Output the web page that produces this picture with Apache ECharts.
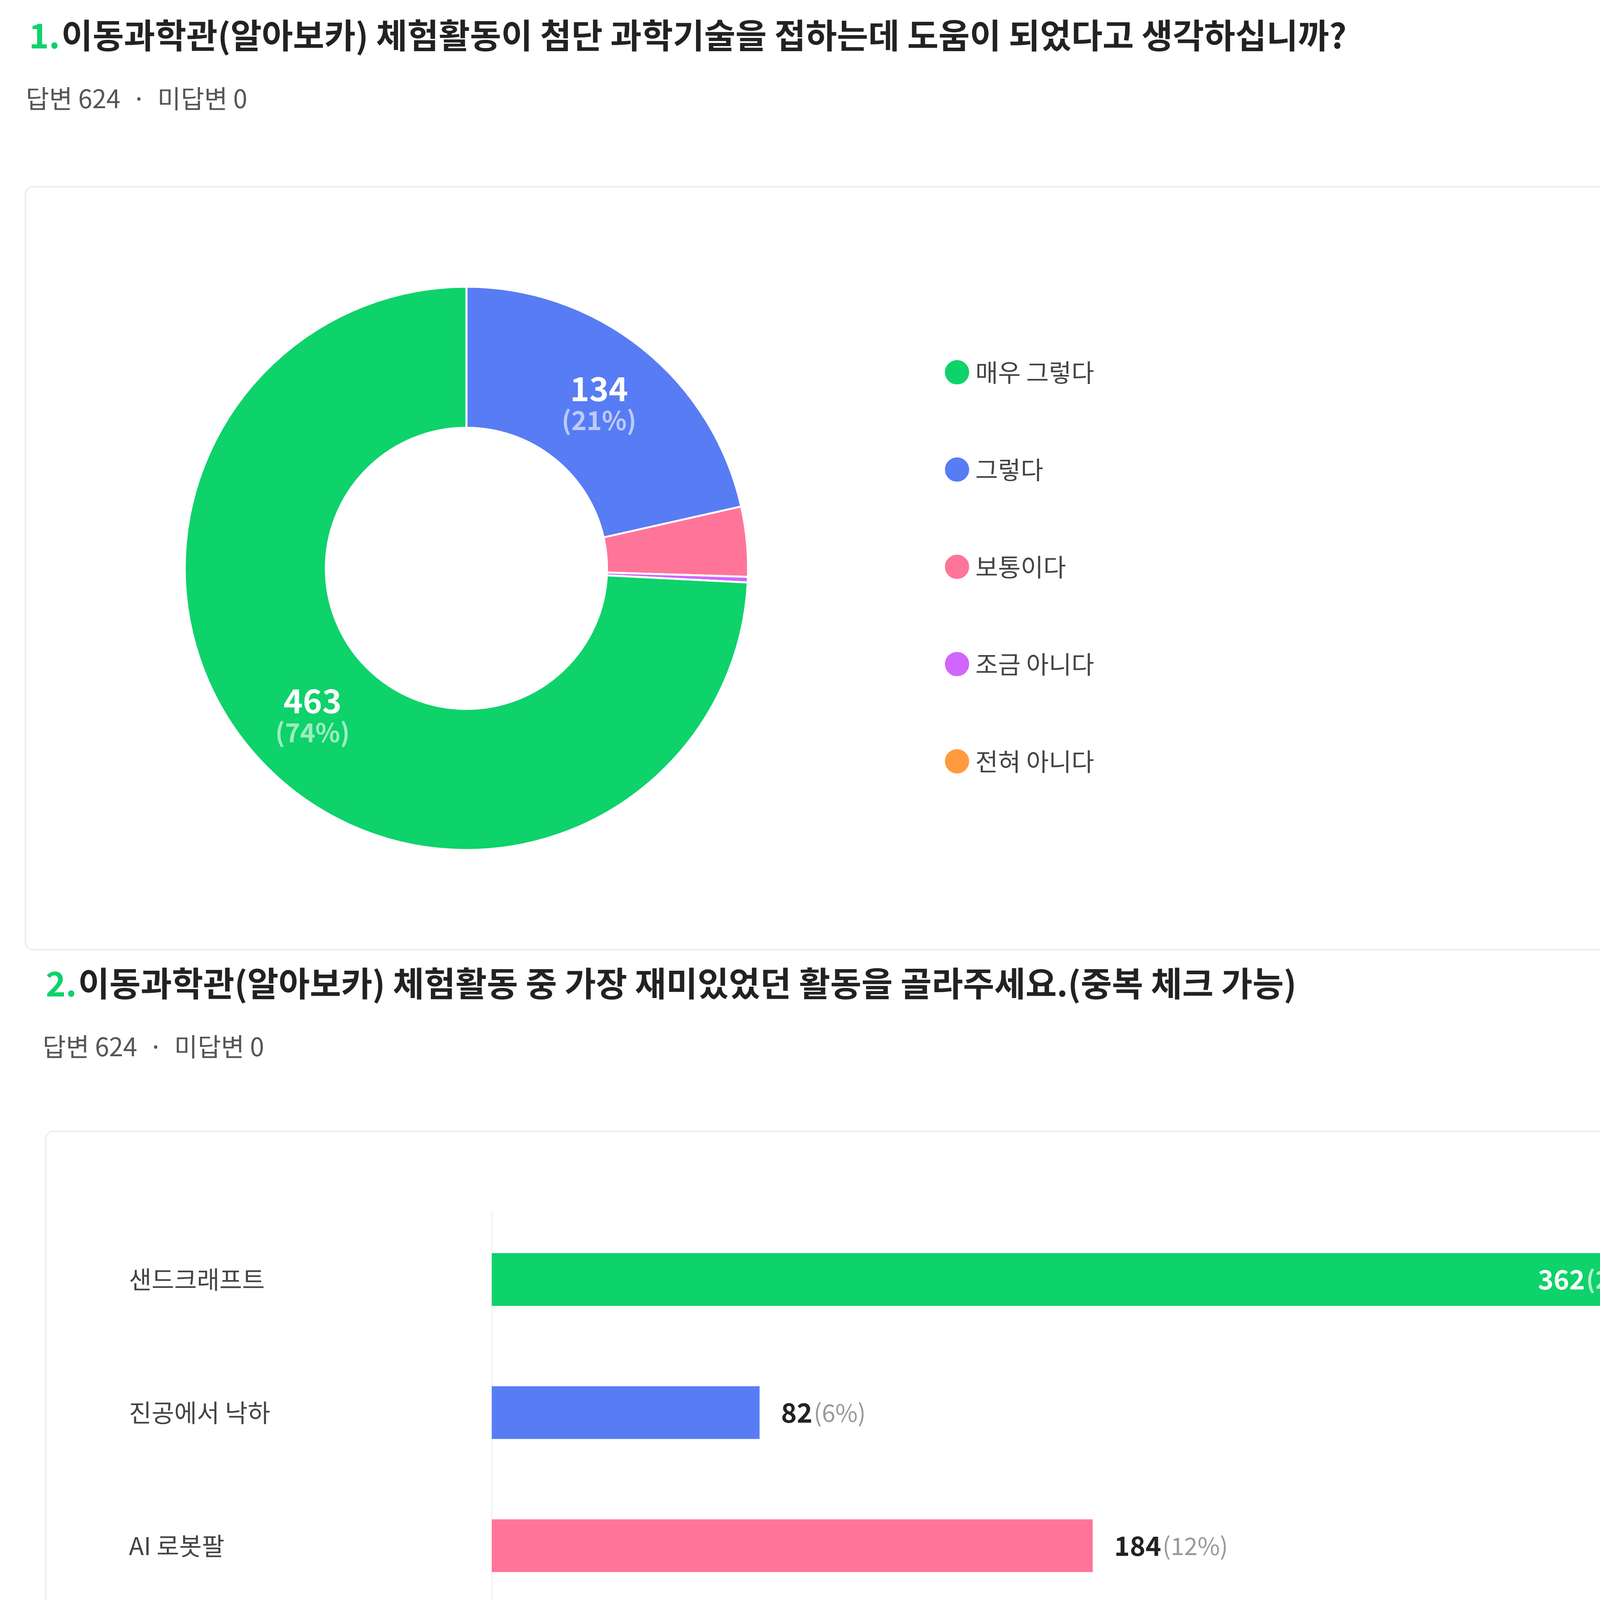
<!DOCTYPE html>
<html><head><meta charset="utf-8">
<script src="https://cdn.jsdelivr.net/npm/echarts@6/dist/echarts.min.js"></script>
<style>html,body{margin:0;padding:0;background:#fff}#c{width:4928px;height:6785px}</style>
</head><body><div id="c"></div>
<script>
const pieNames = ['매우 그렇다','그렇다','보통이다','조금 아니다','전혀 아니다'];
const pieValues = [463,134,25,2,0];
const piePct = ['74%','21%','4%','0%','0%'];
const pieColors = ['#0ed26a','#587cf4','#ff7599','#d066fb','#ff9a3e'];
const pieDrawOrder = [1,2,3,4,0];
const barNames = ['샌드크래프트','진공에서 낙하','AI 로봇팔','자전거 발전기','전자회로 체험','빛의 굴절','스트루프 효과','분자 이야기','금성과 달의 위상','자율체험'];
const barValues = [362,82,184,204,102,96,148,81,92,125];
const barPct = ['25%','6%','12%','14%','7%','7%','10%','5%','6%','8%'];
const barColors = ['#0ed26a','#587cf4','#ff7599','#d066fb','#ff9a3e','#ffd400','#0073c9','#66d900','#ff4fc8','#9257fa'];
const xTicks = [0,80,160,240,320,400];
const insideBars = [362,204];

const F = '"Noto Sans CJK KR","Noto Sans",sans-serif';
const chart = echarts.init(document.getElementById('c'));
const g = [];
function header(x, y, num, title, rightEnd) {
  g.push({type:'text',left:x,top:y-48,style:{text:'{n|'+num+'} {t|'+title+'}',rich:{n:{fill:'#0ed26a',fontSize:87,fontWeight:'bold',fontFamily:F},t:{fill:'#222',fontSize:87,fontWeight:'bold',fontFamily:F}}}});
  g.push({type:'text',left:x-8,top:y+125,style:{text:'답변 624  ·  미답변 0',fill:'#555',fontSize:65,fontFamily:F}});
  g.push({type:'text',right:4928-rightEnd,top:y+125,style:{text:'{a|항목순}{s|   |   }{b|답변 많은 순}',rich:{a:{fill:'#333',fontSize:62,fontFamily:F,fontWeight:'bold'},s:{fill:'#ddd',fontSize:55,fontFamily:F},b:{fill:'#bbb',fontSize:62,fontFamily:F}}}});
}
g.push({type:'rect',z:-10,shape:{x:65,y:478,width:4755,height:1953,r:20},style:{fill:'#fff',stroke:'#eeeeee',lineWidth:4}});
g.push({type:'rect',z:-10,shape:{x:117,y:2896,width:4745,height:4000,r:20},style:{fill:'#fff',stroke:'#eeeeee',lineWidth:4}});
header(74,95,'1.','이동과학관(알아보카) 체험활동이 첨단 과학기술을 접하는데 도움이 되었다고 생각하십니까?',4820);
header(117,2522,'2.','이동과학관(알아보카) 체험활동 중 가장 재미있었던 활동을 골라주세요.(중복 체크 가능)',4868);
pieNames.forEach((n,i)=>{
  g.push({type:'text',right:4928-4538,top:951+247*i-40,style:{text:'{v|'+pieValues[i]+'} {p|('+piePct[i]+')}',rich:{v:{fill:'#222',fontSize:68,fontWeight:'bold',fontFamily:F},p:{fill:'#aaa',fontSize:62,fontFamily:F}}}});
});

chart.setOption({
  animation:false,
  graphic:g,
  legend:{orient:'vertical',left:2412,top:915,itemWidth:64,itemHeight:64,icon:'circle',itemGap:183,selectedMode:false,
    data:pieNames,textStyle:{fontSize:63,color:'#444',fontFamily:F,padding:[0,0,0,10]}},
  grid:{left:1259,right:325,top:3105,bottom:272},
  xAxis:{type:'value',min:0,max:400,interval:80,
    axisLine:{show:true,lineStyle:{color:'#eeeeee',width:4}},axisTick:{show:false},splitLine:{show:false},
    axisLabel:{fontSize:62,color:'#999',fontFamily:F,margin:70}},
  yAxis:{type:'category',inverse:true,data:barNames,
    axisLine:{show:true,lineStyle:{color:'#f2f2f2',width:4}},axisTick:{show:false},
    axisLabel:{align:'left',margin:929,fontSize:63,color:'#444',fontFamily:F}},
  series:[
    {type:'pie',center:[1194,1455],radius:[360,721],startAngle:90,clockwise:true,
     itemStyle:{borderColor:'#fff',borderWidth:5},
     label:{position:'inside',formatter:p=>p.value>=100?'{v|'+p.value+'}\n{p|('+piePct[pieNames.indexOf(p.name)]+')}':'',
       rich:{v:{color:'#fff',fontSize:84,fontWeight:'bold',fontFamily:F,lineHeight:90},p:{color:'rgba(255,255,255,0.6)',fontSize:66,fontWeight:'bold',fontFamily:F,lineHeight:70}}},
     labelLine:{show:false},emphasis:{disabled:true},
     data:pieDrawOrder.map(i=>({name:pieNames[i],value:pieValues[i],itemStyle:{color:pieColors[i]}}))},
    {type:'bar',barWidth:135,
     data:barValues.map((v,i)=>{
       const inside = insideBars.includes(v);
       return {value:v,itemStyle:{color:barColors[i]},
         label:{show:true,position:inside?'insideRight':'right',distance:inside?45:55,
           formatter:'{v|'+v+'} {p|('+barPct[i]+')}',
           rich:{v:{color:inside?'#fff':'#222',fontSize:68,fontWeight:'bold',fontFamily:F},
                 p:{color:inside?'rgba(255,255,255,0.7)':'#999',fontSize:62,fontWeight:inside?'bold':'normal',fontFamily:F}}}};
     })}
  ]
});
</script></body></html>
